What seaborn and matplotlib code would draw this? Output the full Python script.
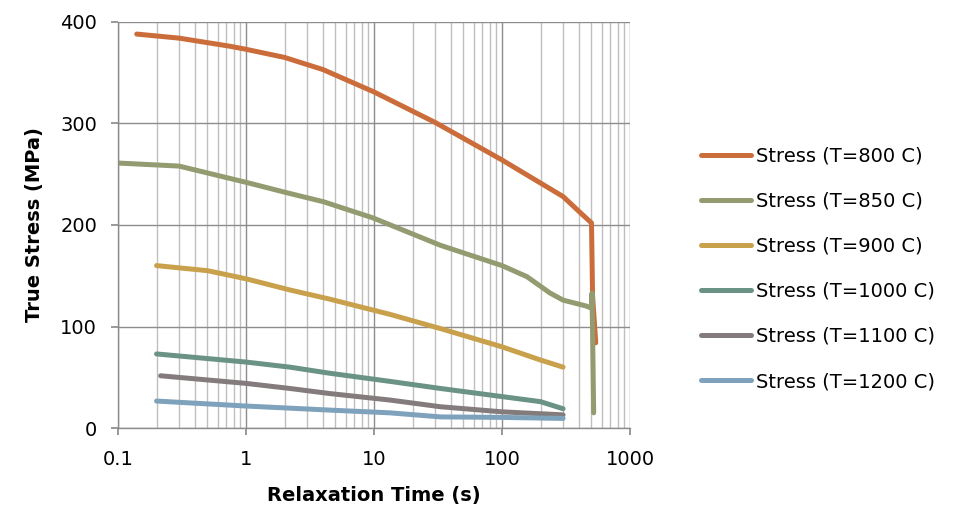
# plot.py - stress relaxation curves

import numpy as np
import pandas as pd
import matplotlib
matplotlib.use('Agg')
import matplotlib.pyplot as plt
import seaborn as sns

# Data
t800 = [0.14, 0.3, 0.75, 1, 2, 4, 10, 30, 100, 300, 410, 500, 510, 540]
s800 = [388, 384, 376, 373, 365, 353, 331, 301, 264, 228, 212, 202, 130, 84]

t850 = [0.1, 0.3, 1, 2.2, 4, 9.8, 33, 100, 157, 237, 300, 460, 500, 505, 520]
s850 = [261, 258, 242, 231, 223, 207, 180, 160, 149, 133, 126, 120, 118, 133, 15]

t900 = [0.2, 0.5, 1, 2.2, 4.5, 13.3, 33, 100, 200, 300]
s900 = [160, 155, 147, 136, 127, 112, 98, 80, 67, 60]

t1000 = [0.2, 1, 2.2, 4.5, 13.3, 33, 100, 200, 300]
s1000 = [73, 65, 60, 54, 46, 39, 31, 26, 19]

t1100 = [0.215, 1, 2.2, 4.5, 13.3, 33, 100, 300]
s1100 = [51.5, 44, 39, 34, 27.6, 21, 16, 13]

t1200 = [0.2, 1, 4.5, 13.3, 33, 100, 300]
s1200 = [26.6, 21.7, 17.7, 15, 11, 10.5, 9.5]

labels = ['Stress (T=800 C)', 'Stress (T=850 C)', 'Stress (T=900 C)',
          'Stress (T=1000 C)', 'Stress (T=1100 C)', 'Stress (T=1200 C)']
colors = ['#CB6D3A', '#939B70', '#C9A14C', '#6A9385', '#847C7C', '#7EA2BC']

series = [(t800, s800), (t850, s850), (t900, s900),
          (t1000, s1000), (t1100, s1100), (t1200, s1200)]

frames = []
for lab, (t, s) in zip(labels, series):
    frames.append(pd.DataFrame({'time': t, 'stress': s, 'series': lab}))
df = pd.concat(frames, ignore_index=True)

sns.set_theme(style='white')
plt.rcParams['font.family'] = ['DejaVu Sans']
plt.rcParams['text.color'] = 'black'
plt.rcParams['axes.labelcolor'] = 'black'
plt.rcParams['xtick.labelcolor'] = 'black'
plt.rcParams['ytick.labelcolor'] = 'black'

fig = plt.figure(figsize=(9.73, 5.09), dpi=100)
ax = fig.add_axes([0.1213, 0.159, 0.5262, 0.798])

sns.lineplot(data=df, x='time', y='stress', hue='series', hue_order=labels,
             palette=colors, sort=False, estimator=None, linewidth=3.6,
             solid_capstyle='round', ax=ax, legend=False)

ax.set_xscale('log')
ax.set_xlim(0.1, 1000)
ax.set_ylim(0, 400)
ax.set_yticks([0, 100, 200, 300, 400])
ax.set_xticks([0.1, 1, 10, 100, 1000])
ax.set_xticklabels(['0.1', '1', '10', '100', '1000'])

ax.grid(True, which='major', axis='both', color='#8C8C8C', linewidth=1.0)
ax.grid(True, which='minor', axis='x', color='#BFBFBF', linewidth=1.0)
ax.set_axisbelow(True)

for side in ['top', 'right']:
    ax.spines[side].set_visible(False)
for side in ['left', 'bottom']:
    ax.spines[side].set_color('#8C8C8C')
    ax.spines[side].set_linewidth(1.0)

ax.tick_params(axis='both', which='major', direction='out', length=5,
               color='#8C8C8C', labelsize=14, bottom=True, left=True)
ax.tick_params(axis='x', which='major', pad=11)
ax.tick_params(axis='y', which='major', pad=10)
ax.tick_params(axis='x', which='minor', length=0)

ax.set_xlabel('Relaxation Time (s)', fontsize=14, fontweight='bold', labelpad=12)
ax.set_ylabel('True Stress (MPa)', fontsize=14, fontweight='bold', labelpad=12)

handles = [plt.Line2D([0], [0], color=c, linewidth=3.6, solid_capstyle='round')
           for c in colors]
fig.legend(handles, labels, loc='upper left', bbox_to_anchor=(0.712, 0.727),
           frameon=False, fontsize=14, handlelength=2.6, handletextpad=0.25,
           labelspacing=1.34, borderaxespad=0)

fig.savefig('out.png', dpi=100)
